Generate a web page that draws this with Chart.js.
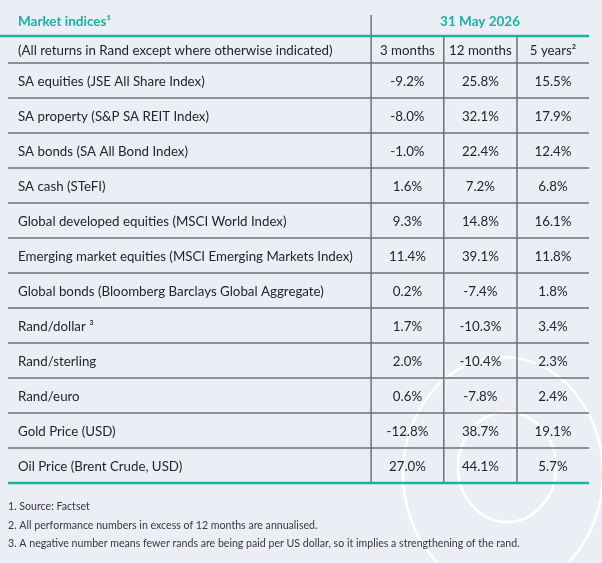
<!DOCTYPE html>
<html>
<head>
<meta charset="utf-8">
<script src="https://cdn.jsdelivr.net/npm/chart.js@4.4.1/dist/chart.umd.min.js"></script>
<style>
	html, body { margin: 0; padding: 0; background: #eceef5; }
	#wrap { width: 602px; height: 563px; position: relative; }
</style>
</head>
<body>
<div id="wrap"><canvas id="marketChart"></canvas></div>
<script>
// Table data
const title = "Market indices¹";
const dateLabel = "31 May 2026";
const headerNote = "(All returns in Rand except where otherwise indicated)";
const periods = ["3 months", "12 months", "5 years²"];
const indices = [
	"SA equities (JSE All Share Index)",
	"SA property (S&P SA REIT Index)",
	"SA bonds (SA All Bond Index)",
	"SA cash (STeFI)",
	"Global developed equities (MSCI World Index)",
	"Emerging market equities (MSCI Emerging Markets Index)",
	"Global bonds (Bloomberg Barclays Global Aggregate)",
	"Rand/dollar ³",
	"Rand/sterling",
	"Rand/euro",
	"Gold Price (USD)",
	"Oil Price (Brent Crude, USD)",
];
const threeMonths = [-9.2, -8.0, -1.0, 1.6, 9.3, 11.4, 0.2, 1.7, 2.0, 0.6, -12.8, 27.0];
const twelveMonths = [25.8, 32.1, 22.4, 7.2, 14.8, 39.1, -7.4, -10.3, -10.4, -7.8, 38.7, 44.1];
const fiveYears = [15.5, 17.9, 12.4, 6.8, 16.1, 11.8, 1.8, 3.4, 2.3, 2.4, 19.1, 5.7];
const footnotes = [
	"1. Source: Factset",
	"2. All performance numbers in excess of 12 months are annualised.",
	"3. A negative number means fewer rands are being paid per US dollar, so it implies a strengthening of the rand.",
];

// Layout (x scale runs 0..100 across the table)
const colEdges = [0, 62.5, 75, 87.6, 100];
const TEAL = "#1bb1a3";
const TEXT = "#232331";
const GRID = "#707077";
const FONT = "Lato, 'Open Sans', sans-serif";

const seriesValues = [threeMonths, twelveMonths, fiveYears];
const colCenters = [1, 2, 3].map((k) => (colEdges[k] + colEdges[k + 1]) / 2);

const tablePlugin = {
	id: "tablePlugin",
	beforeDraw(chart) {
		const ctx = chart.ctx;
		ctx.save();
		ctx.fillStyle = "#eceef5";
		ctx.fillRect(0, 0, chart.width, chart.height);
		// decorative rings
		ctx.strokeStyle = "rgba(255,255,255,0.95)";
		ctx.lineWidth = 2.5;
		ctx.beginPath();
		ctx.ellipse(503, 474, 100, 117, 0, 0, Math.PI * 2);
		ctx.stroke();
		ctx.beginPath();
		ctx.ellipse(507, 467, 49, 55, 0, 0, Math.PI * 2);
		ctx.stroke();
		ctx.restore();
	},
	afterDatasetsDraw(chart) {
		const ctx = chart.ctx;
		const x = chart.scales.x;
		const y = chart.scales.y;
		const area = chart.chartArea;
		const rowH = (area.bottom - area.top) / indices.length;
		const left = x.getPixelForValue(0);
		const right = x.getPixelForValue(100);
		ctx.save();

		// horizontal row lines
		ctx.strokeStyle = GRID;
		ctx.lineWidth = 1.5;
		indices.forEach((label, i) => {
			const yy = y.getPixelForValue(i) - rowH / 2;
			ctx.beginPath();
			ctx.moveTo(left, yy);
			ctx.lineTo(right, yy);
			ctx.stroke();
		});

		// vertical column lines
		colEdges.slice(1, 4).forEach((edge, k) => {
			const xx = x.getPixelForValue(edge);
			ctx.beginPath();
			ctx.moveTo(xx, k === 0 ? area.top - 48 : area.top - 27);
			ctx.lineTo(xx, area.bottom);
			ctx.stroke();
		});

		// teal rules
		ctx.strokeStyle = TEAL;
		ctx.lineWidth = 2.5;
		ctx.beginPath();
		ctx.moveTo(0, area.top - 27);
		ctx.lineTo(right, area.top - 27);
		ctx.stroke();
		ctx.beginPath();
		ctx.moveTo(left, area.bottom);
		ctx.lineTo(right, area.bottom);
		ctx.stroke();

		// titles
		ctx.textBaseline = "middle";
		ctx.fillStyle = TEAL;
		ctx.font = "bold 13.5px " + FONT;
		ctx.textAlign = "left";
		ctx.fillText(title, left + 10, area.top - 41);
		ctx.textAlign = "center";
		ctx.fillText(dateLabel, x.getPixelForValue((colEdges[1] + colEdges[4]) / 2), area.top - 41);

		// header row
		ctx.fillStyle = TEXT;
		ctx.font = "13.3px " + FONT;
		ctx.textAlign = "left";
		ctx.fillText(headerNote, left + 10, area.top - 12);
		ctx.textAlign = "center";
		periods.forEach((p, k) => {
			ctx.fillText(p, x.getPixelForValue(colCenters[k]), area.top - 12);
		});

		// row labels
		ctx.textAlign = "left";
		indices.forEach((label, i) => {
			ctx.fillText(label, left + 10, y.getPixelForValue(i) + 1);
		});

		// cell values from the dataset elements
		ctx.textAlign = "center";
		chart.data.datasets.forEach((ds, k) => {
			const meta = chart.getDatasetMeta(k);
			meta.data.forEach((el, i) => {
				ctx.fillText(seriesValues[k][i].toFixed(1) + "%", el.x, el.y + 1);
			});
		});

		// footnotes
		ctx.fillStyle = "#3a3442";
		ctx.font = "10.6px " + FONT;
		ctx.textAlign = "left";
		footnotes.forEach((note, i) => {
			ctx.fillText(note, 8, area.bottom + 24 + i * 18.5);
		});
		ctx.restore();
	},
};

const ctx = document.getElementById("marketChart").getContext("2d");
const marketChart = new Chart(ctx, {
	type: "scatter",
	data: {
		datasets: periods.map((p, k) => ({
			label: p,
			data: indices.map((label, i) => ({ x: colCenters[k], y: label })),
			pointRadius: 0,
			pointHoverRadius: 0,
		})),
	},
	options: {
		responsive: true,
		maintainAspectRatio: false,
		animation: false,
		devicePixelRatio: 1,
		layout: { padding: { left: 8, right: 13, top: 63, bottom: 80 } },
		scales: {
			x: { type: "linear", min: 0, max: 100, display: false },
			y: { type: "category", labels: indices, offset: true, display: false },
		},
		plugins: {
			legend: { display: false },
			tooltip: { enabled: false },
		},
	},
	plugins: [tablePlugin],
});
</script>
</body>
</html>
